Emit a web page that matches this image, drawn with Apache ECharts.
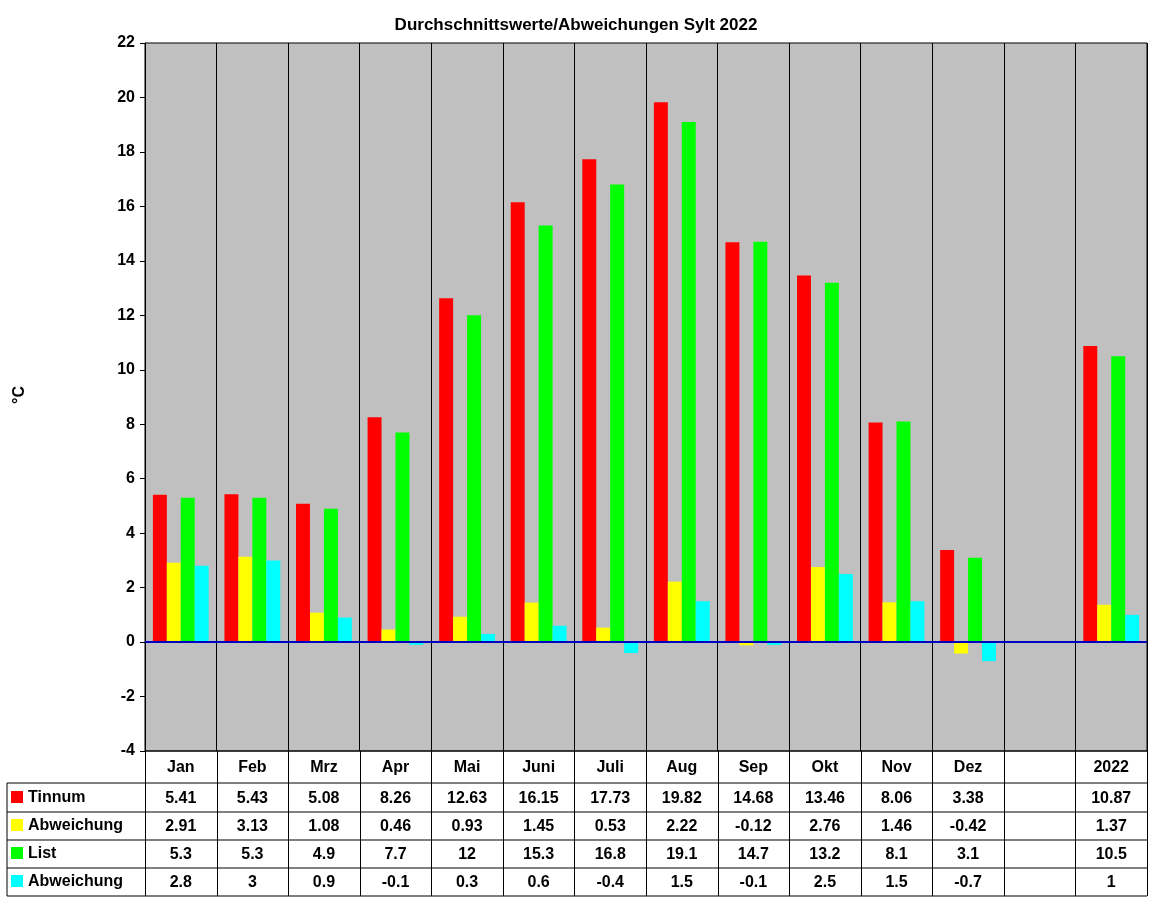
<!DOCTYPE html>
<html>
<head>
<meta charset="UTF-8">
<title>Sylt 2022</title>
<script src="https://cdn.jsdelivr.net/npm/echarts@6/dist/echarts.min.js"></script>
<style>body{margin:0;background:#fff}</style>
</head>
<body>
<div id="main" style="width:1152px;height:900px"></div>
<script>
var months = ['Jan','Feb','Mrz','Apr','Mai','Juni','Juli','Aug','Sep','Okt','Nov','Dez','','2022'];
var seriesNames = ['Tinnum','Abweichung','List','Abweichung'];
var colors = ['#ff0000','#ffff00','#00ff00','#00ffff'];
var tinnum = [5.41,5.43,5.08,8.26,12.63,16.15,17.73,19.82,14.68,13.46,8.06,3.38,null,10.87];
var tinnumAbw = [2.91,3.13,1.08,0.46,0.93,1.45,0.53,2.22,-0.12,2.76,1.46,-0.42,null,1.37];
var list = [5.3,5.3,4.9,7.7,12,15.3,16.8,19.1,14.7,13.2,8.1,3.1,null,10.5];
var listAbw = [2.8,3,0.9,-0.1,0.3,0.6,-0.4,1.5,-0.1,2.5,1.5,-0.7,null,1];
var allSeries = [tinnum, tinnumAbw, list, listAbw];

var L = 145, R = 1147, T = 43, B = 751;
var font = 'Liberation Sans, Arial, sans-serif';
var mychart = echarts.init(document.getElementById('main'));

var xAxes = [{
  type:'category', data:months, gridIndex:0, position:'bottom',
  axisLine:{show:false}, axisTick:{show:false},
  axisLabel:{fontFamily:font, fontWeight:'bold', fontSize:16, color:'#000', margin:9, interval:0},
  splitLine:{show:true, lineStyle:{color:'#000', width:1}}
}];
allSeries.forEach(function(s, i){
  xAxes.push({
    type:'category', gridIndex:0, position:'bottom', offset:31 + i*28,
    data:s.map(function(v){ return v === null ? '' : String(v); }),
    axisLine:{show:false}, axisTick:{show:false}, splitLine:{show:false},
    axisLabel:{fontFamily:font, fontWeight:'bold', fontSize:16, color:'#000', margin:9, interval:0}
  });
});

var graphic = [];
var cw = (R - L) / months.length;
// table lines
[B, 783, 812, 840, 868, 896].forEach(function(y, i){
  graphic.push({type:'line', shape:{x1: i===0 ? L : 7, y1:y, x2:R, y2:y}, style:{stroke:'#000', lineWidth:1}});
});
graphic.push({type:'line', shape:{x1:7, y1:783, x2:7, y2:896}, style:{stroke:'#000'}});
for (var k = 0; k <= months.length; k++) {
  var x = Math.round(L + k*cw) + 0.5;
  graphic.push({type:'line', shape:{x1:x, y1:B, x2:x, y2:896}, style:{stroke:'#000'}});
}
seriesNames.forEach(function(n, i){
  var y = 798 + i*28;
  graphic.push({type:'rect', shape:{x:11, y:y-7, width:12, height:12}, style:{fill:colors[i]}});
  graphic.push({type:'text', style:{text:n, x:28, y:y, verticalAlign:'middle', font:'bold 16px ' + font, fill:'#000'}});
});
graphic.push({type:'text', rotation:Math.PI/2, x:20, y:395,
  style:{text:'°C', font:'bold 16px ' + font, fill:'#000', align:'center', verticalAlign:'middle'}});

var option = {
  animation:false,
  backgroundColor:'#fff',
  title:{text:'Durchschnittswerte/Abweichungen Sylt 2022', left:'center', top:12,
    textStyle:{fontFamily:font, fontWeight:'bold', fontSize:17, color:'#000'}},
  grid:{left:L, right:1152-R, top:T, bottom:900-B, backgroundColor:'#c0c0c0', show:true, borderColor:'#000', borderWidth:1},
  xAxis:xAxes,
  yAxis:{type:'value', min:-4, max:22, interval:2,
    axisLine:{show:true, lineStyle:{color:'#000'}}, axisTick:{show:true, length:5, lineStyle:{color:'#000'}},
    splitLine:{show:false},
    axisLabel:{fontFamily:font, fontWeight:'bold', fontSize:16, color:'#000', margin:10}},
  graphic:graphic,
  series:allSeries.map(function(s, i){
    return {name:seriesNames[i], type:'bar', data:s, xAxisIndex:0, barGap:'0%', barCategoryGap:'22%',
      itemStyle:{color:colors[i]},
      markLine: i === 0 ? {silent:true, symbol:'none', label:{show:false},
        lineStyle:{color:'#0000c0', width:2, type:'solid'}, data:[{yAxis:0}]} : undefined};
  })
};
mychart.setOption(option);
</script>
</body>
</html>
